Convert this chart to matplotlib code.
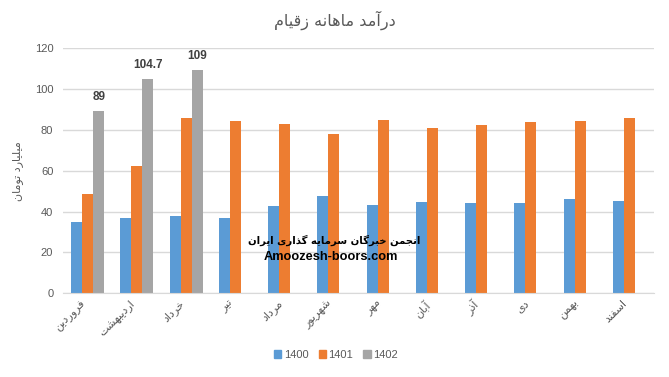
import numpy as np
import matplotlib
matplotlib.use("Agg")
import matplotlib.pyplot as plt
from matplotlib.patches import Patch

# --- data ---
months = ["فروردین", "اردیبهشت", "خرداد", "تیر", "مرداد", "شهریور",
          "مهر", "آبان", "آذر", "دی", "بهمن", "اسفند"]
v1400 = [35.0, 37.0, 37.9, 37.0, 42.8, 47.8, 43.3, 44.8, 44.3, 44.3, 46.3, 45.3]
v1401 = [48.7, 62.5, 86.0, 84.1, 82.6, 77.7, 84.6, 81.1, 82.1, 83.6, 84.1, 86.0]
v1402 = [89, 104.7, 109]
series_names = ["1400", "1401", "1402"]
yticks = [0, 20, 40, 60, 80, 100, 120]

title = "درآمد ماهانه زقیام"
ylabel = "میلیارد تومان"
watermark_fa = "انجمن خبرگان سرمایه گذاری ایران"
watermark_en = "Amoozesh-boors.com"

# Arabic letter forms (isolated, final, initial, medial); matplotlib does no shaping
FORMS = {
    "ا": (0xFE8D, 0xFE8E, None, None),
    "آ": (0xFE81, 0xFE82, None, None),
    "ب": (0xFE8F, 0xFE90, 0xFE91, 0xFE92),
    "ت": (0xFE95, 0xFE96, 0xFE97, 0xFE98),
    "ج": (0xFE9D, 0xFE9E, 0xFE9F, 0xFEA0),
    "خ": (0xFEA5, 0xFEA6, 0xFEA7, 0xFEA8),
    "د": (0xFEA9, 0xFEAA, None, None),
    "ذ": (0xFEAB, 0xFEAC, None, None),
    "ر": (0xFEAD, 0xFEAE, None, None),
    "ز": (0xFEAF, 0xFEB0, None, None),
    "س": (0xFEB1, 0xFEB2, 0xFEB3, 0xFEB4),
    "ش": (0xFEB5, 0xFEB6, 0xFEB7, 0xFEB8),
    "ف": (0xFED1, 0xFED2, 0xFED3, 0xFED4),
    "ق": (0xFED5, 0xFED6, 0xFED7, 0xFED8),
    "ل": (0xFEDD, 0xFEDE, 0xFEDF, 0xFEE0),
    "م": (0xFEE1, 0xFEE2, 0xFEE3, 0xFEE4),
    "ن": (0xFEE5, 0xFEE6, 0xFEE7, 0xFEE8),
    "ه": (0xFEE9, 0xFEEA, 0xFEEB, 0xFEEC),
    "و": (0xFEED, 0xFEEE, None, None),
    "ی": (0xFBFC, 0xFBFD, 0xFBFE, 0xFBFF),
    "گ": (0xFB92, 0xFB93, 0xFB94, 0xFB95),
}


def fa(text):
    out = []
    for i, c in enumerate(text):
        if c not in FORMS:
            out.append(c)
            continue
        prev = text[i - 1] if i > 0 else None
        nxt = text[i + 1] if i + 1 < len(text) else None
        iso, fin, ini, med = FORMS[c]
        join_prev = prev in FORMS and FORMS[prev][2] is not None
        join_next = nxt in FORMS and ini is not None
        if join_prev and join_next:
            f = med
        elif join_prev:
            f = fin
        elif join_next:
            f = ini
        else:
            f = iso
        out.append(chr(f))
    return "".join(reversed(out))


plt.rcParams["font.family"] = ["DejaVu Sans"]
num_font = "Liberation Sans"
grey = "#595959"
colors = ["#5B9BD5", "#ED7D31", "#A5A5A5"]

fig = plt.figure(figsize=(6.69, 3.77), dpi=100)
ax = fig.add_axes([63 / 669, 1 - 293.3 / 377, 591 / 669, 245.3 / 377])

x = np.arange(len(months))
w = 0.225
ax.bar(x - w, v1400, w, color=colors[0], zorder=2)
ax.bar(x, v1401, w, color=colors[1], zorder=2)
b3 = ax.bar(x[:len(v1402)] + w, v1402, w, color=colors[2], zorder=2)
ax.bar_label(b3, labels=[f"{v:g}" for v in v1402], padding=6,
             fontsize=8.5, fontweight="bold", color="#404040", family=num_font)

ax.set_xlim(-0.5, len(months) - 0.5)
ax.set_ylim(0, 120)
ax.set_yticks(yticks)
ax.yaxis.grid(True, color="#D9D9D9", linewidth=1, zorder=0)
ax.set_axisbelow(True)
for s in ["top", "right", "left"]:
    ax.spines[s].set_visible(False)
ax.spines["bottom"].set_color("#D9D9D9")
ax.tick_params(axis="both", length=0, colors=grey)
ax.tick_params(axis="y", pad=7)
for lab in ax.get_yticklabels():
    lab.set_fontfamily(num_font)
    lab.set_fontsize(8)
ax.set_xticks(x)
ax.set_xticklabels([fa(m) for m in months], rotation=45, ha="right", va="top",
                   fontsize=8, color=grey)

ax.set_ylabel(fa(ylabel), fontsize=8, color=grey)
ax.yaxis.set_label_coords(-0.068, 0.5)

fig.text(0.5, 1 - 20 / 377, fa(title), ha="center", va="center",
         fontsize=11.5, color=grey)

fig.text(334 / 669, 1 - 240 / 377, fa(watermark_fa), ha="center", va="center",
         fontsize=7.3, fontweight="bold", color="black")
fig.text(331 / 669, 1 - 257 / 377, watermark_en, ha="center", va="center",
         fontsize=9.2, fontweight="bold", color="black", family=num_font)

handles = [Patch(color=c) for c in colors]
fig.legend(handles, series_names, loc="center", bbox_to_anchor=(336 / 669, 1 - 355 / 377),
           ncol=3, frameon=False, prop={"family": num_font, "size": 8},
           handlelength=0.65, handleheight=0.65, handletextpad=0.25,
           columnspacing=0.9, labelcolor=grey)

fig.savefig("out.png", dpi=100)
